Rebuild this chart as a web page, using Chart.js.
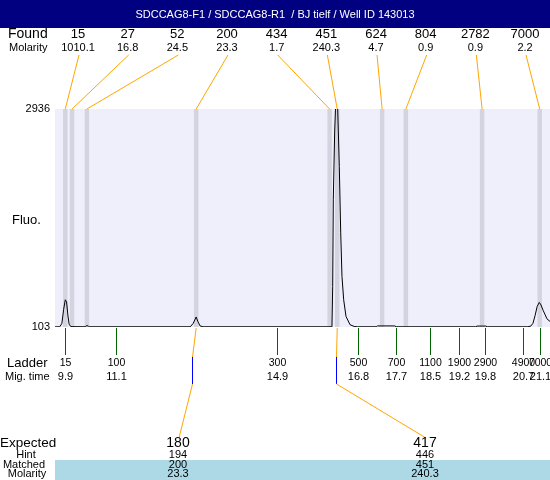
<!DOCTYPE html>
<html lang="en">

<head>
    <meta charset="UTF-8">
    <script src="https://cdn.jsdelivr.net/npm/chart.js"></script>
    <title>Electropherogram</title>
    <style>
        body { margin: 0; background: #fff; }
        canvas { display: block; }
    </style>
</head>

<body>
    <canvas id="traceChart" width="550" height="480"></canvas>

    <script>
        const title = 'SDCCAG8-F1 / SDCCAG8-R1  / BJ tielf / Well ID 143013';

        // found peaks (size, molarity, migration time)
        const foundSize = ['15', '27', '52', '200', '434', '451', '624', '804', '2782', '7000'];
        const foundMolarity = ['1010.1', '16.8', '24.5', '23.3', '1.7', '240.3', '4.7', '0.9', '0.9', '2.2'];
        const foundTime = [9.90, 10.06, 10.41, 12.99, 16.14, 16.32, 17.38, 17.94, 19.74, 21.10];

        // ladder
        const ladderSize = ['15', '100', '300', '500', '700', '1100', '1900', '2900', '4900', '7000'];
        const ladderTime = [9.9, 11.1, 14.9, 16.8, 17.7, 18.5, 19.2, 19.8, 20.7, 21.1];

        // expected / matched table
        const expectedSize = ['180', '417'];
        const expectedTime = [12.88, 16.28];
        const hintSize = ['194', '446'];
        const matchedSize = ['200', '451'];
        const matchedMolarity = ['23.3', '240.3'];
        const matchedTime = [12.99, 16.32];

        // fluorescence trace
        const traceTime = [9.657, 9.77, 9.82, 9.86, 9.90, 9.93, 9.96, 9.99, 10.03,
            10.37, 10.39, 10.44, 10.46,
            12.85, 12.92, 12.99, 13.03, 13.08, 13.15,
            16.18, 16.196, 16.213, 16.227, 16.26, 16.302, 16.331, 16.369, 16.402, 16.432,
            16.472, 16.527, 16.622, 16.72, 16.80,
            17.24, 17.27, 17.68, 17.71,
            19.59, 19.62, 19.83, 19.86,
            20.82, 20.89, 20.94, 20.99, 21.04, 21.09, 21.13, 21.18, 21.23, 21.27, 21.343];
        const traceFluo = [105, 106, 150, 330, 457, 430, 260, 140, 108,
            106, 118, 118, 106,
            106, 150, 233, 175, 118, 106,
            106, 115, 630, 1755, 2650, 3300, 2936, 2188, 1327, 760,
            457, 240, 133, 110, 106,
            106, 117, 117, 106,
            106, 115, 115, 106,
            106, 115, 150, 250, 370, 422, 390, 320, 260, 210, 175];

        const yTicks = [103, 2936];

        const font = (size) => size + 'px "Liberation Sans", Arial, sans-serif';
        const narrow = (size) => size + 'px "Liberation Sans Narrow", "Liberation Sans", Arial, sans-serif';

        function text(ctx, str, x, y, f, align, color) {
            ctx.font = f;
            ctx.textAlign = align || 'center';
            ctx.textBaseline = 'middle';
            ctx.fillStyle = color || '#000';
            ctx.fillText(str, x, y);
        }

        function line(ctx, x1, y1, x2, y2, color) {
            ctx.strokeStyle = color;
            ctx.lineWidth = 1;
            ctx.beginPath();
            ctx.moveTo(x1, y1);
            ctx.lineTo(x2, y2);
            ctx.stroke();
        }

        // backgrounds, title bar, peak bands and all the labels round the plot
        const backPlugin = {
            id: 'back',
            beforeDatasetsDraw(chart) {
                const ctx = chart.ctx;
                const a = chart.chartArea;
                const x = chart.scales.x;
                ctx.save();
                ctx.fillStyle = '#fff';
                ctx.fillRect(0, 0, chart.width, chart.height);

                ctx.fillStyle = '#000080';
                ctx.fillRect(0, 0, chart.width, 28);
                text(ctx, title, chart.width / 2, 15, font(11), 'center', '#fff');

                ctx.fillStyle = '#EFEFFC';
                ctx.fillRect(a.left, a.top, a.right - a.left, a.bottom - a.top);

                ctx.fillStyle = '#D4D4E1';
                foundTime.forEach(t => {
                    const x1 = x.getPixelForValue(t - 0.053);
                    const x2 = x.getPixelForValue(t + 0.053);
                    ctx.fillRect(x1, a.top, x2 - x1, a.bottom - a.top);
                });
                ctx.restore();
            },
            afterDatasetsDraw(chart) {
                const ctx = chart.ctx;
                const a = chart.chartArea;
                const x = chart.scales.x;
                const y = chart.scales.y;
                ctx.save();

                // y labels
                yTicks.forEach(v => text(ctx, String(v), 50, y.getPixelForValue(v), font(11), 'right'));
                text(ctx, 'Fluo.', 12, 220, font(13), 'left');

                // found row
                text(ctx, 'Found', 8, 34, font(14), 'left');
                text(ctx, 'Molarity', 9, 48, narrow(11), 'left');
                foundSize.forEach((s, i) => {
                    const cx = 78 + i * 49.67;
                    text(ctx, s, cx, 34, font(13));
                    text(ctx, foundMolarity[i], cx, 48, font(11));
                    line(ctx, cx + 1, 55, x.getPixelForValue(foundTime[i]), a.top, '#FFA500');
                });

                // ladder
                text(ctx, 'Ladder', 7, 363, font(13), 'left');
                text(ctx, 'Mig. time', 5, 377, font(11), 'left');
                ladderSize.forEach((s, i) => {
                    const lx = Math.round(x.getPixelForValue(ladderTime[i])) + 0.5;
                    line(ctx, lx, a.bottom + 1, lx, 355, '#006400');
                    text(ctx, s, lx, 363, font(10.5));
                    text(ctx, ladderTime[i].toFixed(1), lx, 377, font(11));
                });

                // expected table
                ctx.fillStyle = '#ADD8E6';
                ctx.fillRect(a.left, 460, a.right - a.left, 20);
                text(ctx, 'Expected', 0, 443, font(13.5), 'left');
                text(ctx, 'Hint', 26, 455, narrow(11));
                text(ctx, 'Matched', 24, 465, narrow(11));
                text(ctx, 'Molarity', 27, 474, narrow(11));
                const cols = [178, 425];
                expectedSize.forEach((s, i) => {
                    const mx = x.getPixelForValue(matchedTime[i]);
                    const ex = Math.round(x.getPixelForValue(expectedTime[i])) + 0.5;
                    line(ctx, mx, a.bottom + 1, ex, 357, '#FFA500');
                    line(ctx, ex, 357, ex, 384, '#0000FF');
                    line(ctx, ex, 384, cols[i] + 1, 438, '#FFA500');
                    text(ctx, s, cols[i], 443, font(14));
                    text(ctx, hintSize[i], cols[i], 455, narrow(11));
                    text(ctx, matchedSize[i], cols[i], 465, narrow(11));
                    text(ctx, matchedMolarity[i], cols[i], 474, narrow(11));
                });
                ctx.restore();
            }
        };

        const ctx = document.getElementById('traceChart').getContext('2d');
        new Chart(ctx, {
            type: 'line',
            data: {
                datasets: [{
                    data: traceTime.map((t, i) => ({ x: t, y: traceFluo[i] })),
                    borderColor: '#000',
                    borderWidth: 1,
                    pointRadius: 0,
                    tension: 0,
                    fill: false
                }]
            },
            options: {
                responsive: false,
                animation: false,
                devicePixelRatio: 1,
                layout: {
                    padding: { left: 55, right: 0, top: 109, bottom: 153 }
                },
                scales: {
                    x: { type: 'linear', min: 9.657, max: 21.343, display: false },
                    y: { min: 103, max: 2936, display: false }
                },
                plugins: {
                    legend: { display: false },
                    tooltip: { enabled: false }
                }
            },
            plugins: [backPlugin]
        });
    </script>
</body>

</html>
